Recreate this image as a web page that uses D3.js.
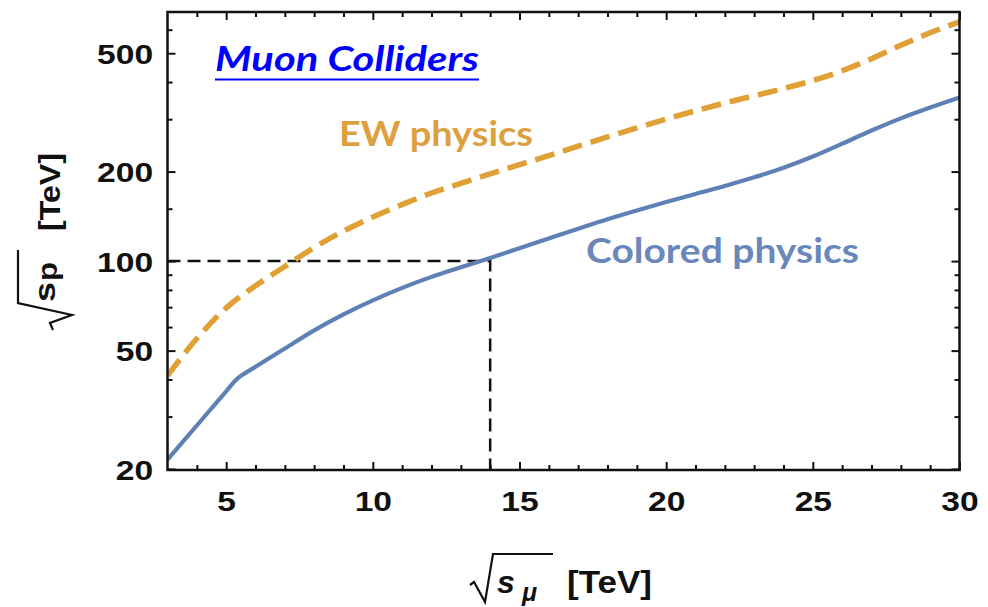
<!DOCTYPE html>
<html>
<head>
<meta charset="utf-8">
<script src="https://cdn.jsdelivr.net/npm/d3@7"></script>
<style>
  html, body { margin: 0; padding: 0; background: #ffffff; }
  svg { display: block; }
</style>
</head>
<body>
<svg id="chart" width="988" height="607"></svg>
<script>
// ---- data ----
const coloredX = [3, 4, 5, 5.4, 6, 7, 8, 9, 10, 11, 12, 13, 14, 15, 16, 17, 18, 19, 20, 21, 22, 23, 24, 25, 26, 27, 28, 29, 30];
const coloredY = [21.5, 28.0, 36.5, 40.4, 44.1, 50.8, 58.5, 66.2, 73.8, 81.3, 88.5, 95.3, 102.5, 110.5, 119.2, 128.5, 138.3, 148.0, 157.9, 168.2, 178.9, 191.3, 206.0, 224.7, 248.2, 274.8, 302.0, 328.3, 355.0];

const ewX = [3, 4, 5, 6, 7, 8, 9, 10, 11, 12, 13, 14, 15, 16, 17, 18, 19, 20, 21, 22, 23, 24, 25, 26, 27, 28, 29, 30];
const ewY = [41.2, 54.9, 69.6, 82.6, 95.9, 111.1, 126.1, 140.7, 155.0, 169.4, 182.5, 196.5, 210.9, 226.4, 243.4, 261.5, 280.4, 300.2, 320.1, 340.1, 359.7, 380.3, 404.6, 436.5, 479.0, 531.8, 585.8, 637.8];

const refPointX = 14;
const refPointY = 100;

const xMajorTicks = [5, 10, 15, 20, 25, 30];
const xMinorTicks = [4, 6, 7, 8, 9, 11, 12, 13, 14, 16, 17, 18, 19, 21, 22, 23, 24, 26, 27, 28, 29];
const yMajorTicks = [20, 50, 100, 200, 500];
const yMinorTicks = [30, 40, 60, 70, 80, 90, 150, 300, 400, 600];

const xDomain = [3, 30];
const yDomain = [19.84, 688];

// ---- layout ----
const L = 167.5, R = 959.5, T = 12, B = 470;
const svg = d3.select("#chart");
svg.append("rect").attr("width", 988).attr("height", 607).attr("fill", "#fff");

const x = d3.scaleLinear().domain(xDomain).range([L, R]);
const y = d3.scaleLog().domain(yDomain).range([B, T]);

const tickFont = "'Liberation Sans', Arial, sans-serif";

function styleAxis(g, labels) {
  g.select(".domain").remove();
  g.selectAll(".tick line").attr("stroke", "#111").attr("stroke-width", 2);
  if (!labels) g.selectAll(".tick text").remove();
  else g.selectAll(".tick text")
        .attr("font-family", tickFont)
        .attr("font-weight", "bold")
        .attr("font-size", 28)
        .attr("fill", "#111");
}

// bottom
const gxB = svg.append("g").attr("transform", `translate(0,${B})`)
  .call(d3.axisBottom(x).tickValues(xMajorTicks).tickSize(-8).tickPadding(21).tickFormat(d3.format("d")));
styleAxis(gxB, true);
gxB.selectAll(".tick text").attr("transform", "scale(1.2,1)");
const gxBm = svg.append("g").attr("transform", `translate(0,${B})`)
  .call(d3.axisBottom(x).tickValues(xMinorTicks).tickSize(-5).tickFormat(""));
styleAxis(gxBm, false);
// top
const gxT = svg.append("g").attr("transform", `translate(0,${T})`)
  .call(d3.axisTop(x).tickValues(xMajorTicks).tickSize(-8).tickFormat(""));
styleAxis(gxT, false);
const gxTm = svg.append("g").attr("transform", `translate(0,${T})`)
  .call(d3.axisTop(x).tickValues(xMinorTicks).tickSize(-5).tickFormat(""));
styleAxis(gxTm, false);
// left
const gyL = svg.append("g").attr("transform", `translate(${L},0)`)
  .call(d3.axisLeft(y).tickValues(yMajorTicks).tickSize(-8).tickPadding(12).tickFormat(d3.format("d")));
styleAxis(gyL, true);
gyL.selectAll(".tick text").attr("transform", "scale(1.2,1)").attr("dy", "0.36em");
const gyLm = svg.append("g").attr("transform", `translate(${L},0)`)
  .call(d3.axisLeft(y).tickValues(yMinorTicks).tickSize(-5).tickFormat(""));
styleAxis(gyLm, false);
// right
const gyR = svg.append("g").attr("transform", `translate(${R},0)`)
  .call(d3.axisRight(y).tickValues(yMajorTicks).tickSize(-8).tickFormat(""));
styleAxis(gyR, false);
const gyRm = svg.append("g").attr("transform", `translate(${R},0)`)
  .call(d3.axisRight(y).tickValues(yMinorTicks).tickSize(-5).tickFormat(""));
styleAxis(gyRm, false);

// ---- curves ----
svg.append("clipPath").attr("id", "plotclip")
  .append("rect").attr("x", L).attr("y", T).attr("width", R - L).attr("height", B - T);

const line = d3.line().x(d => x(d[0])).y(d => y(d[1])).curve(d3.curveCatmullRom.alpha(0.5));
const coloredData = coloredX.map((v, i) => [v, coloredY[i]]);
const ewData = ewX.map((v, i) => [v, ewY[i]]);

const plot = svg.append("g").attr("clip-path", "url(#plotclip)");

// reference dashed lines (100 TeV at 14 TeV)
plot.append("path")
  .attr("d", `M${x(xDomain[0])},${y(refPointY)}H${x(refPointX)}V${y(yDomain[0])}`)
  .attr("fill", "none").attr("stroke", "#111").attr("stroke-width", 2.5)
  .attr("stroke-dasharray", "13,7");

plot.append("path").datum(coloredData).attr("d", line)
  .attr("fill", "none").attr("stroke", "#5E81B5").attr("stroke-width", 4.2);

plot.append("path").datum(ewData).attr("d", line)
  .attr("fill", "none").attr("stroke", "#E1A035").attr("stroke-width", 5.5)
  .attr("stroke-dasharray", "20,9");

// frame
svg.append("rect").attr("x", L).attr("y", T).attr("width", R - L).attr("height", B - T)
  .attr("fill", "none").attr("stroke", "#111").attr("stroke-width", 2.5);

// ---- annotations ----
const annFont = "Lato, 'Open Sans', sans-serif";
svg.append("text").attr("x", 215).attr("y", 71)
  .attr("font-family", annFont).attr("font-weight", "bold").attr("font-style", "italic")
  .attr("font-size", 34).attr("fill", "#0000FF")
  .attr("textLength", 264).attr("lengthAdjust", "spacingAndGlyphs")
  .text("Muon Colliders");
svg.append("line").attr("x1", 215).attr("x2", 479).attr("y1", 79.5).attr("y2", 79.5)
  .attr("stroke", "#0000FF").attr("stroke-width", 2);

svg.append("text").attr("x", 339).attr("y", 146)
  .attr("font-family", annFont).attr("font-weight", "bold")
  .attr("font-size", 34).attr("fill", "#DDA03F")
  .attr("textLength", 194).attr("lengthAdjust", "spacingAndGlyphs")
  .text("EW physics");

svg.append("text").attr("x", 586).attr("y", 263)
  .attr("font-family", annFont).attr("font-weight", "bold")
  .attr("font-size", 35).attr("fill", "#6A87BC")
  .attr("textLength", 273).attr("lengthAdjust", "spacingAndGlyphs")
  .text("Colored physics");

// ---- axis titles ----
// x title: sqrt(s_mu) [TeV]
svg.append("path").attr("d", "M470,585 L474,582 L485,602 L493,554 L553,554")
  .attr("fill", "none").attr("stroke", "#111").attr("stroke-width", 2.2);
svg.append("text").attr("x", 497).attr("y", 593)
  .attr("font-family", tickFont).attr("font-weight", "bold").attr("font-style", "italic")
  .attr("font-size", 32).attr("fill", "#111").text("s");
svg.append("text").attr("x", 522).attr("y", 601)
  .attr("font-family", tickFont).attr("font-weight", "bold").attr("font-style", "italic")
  .attr("font-size", 25).attr("fill", "#111").text("μ");
svg.append("text").attr("x", 567).attr("y", 593)
  .attr("font-family", tickFont).attr("font-weight", "bold")
  .attr("font-size", 31).attr("fill", "#111")
  .attr("textLength", 85).attr("lengthAdjust", "spacingAndGlyphs")
  .text("[TeV]");

// y title: sqrt(s_p) [TeV]
svg.append("path").attr("d", "M53,330 L50,323 L72,315 L18,303 L18,250")
  .attr("fill", "none").attr("stroke", "#111").attr("stroke-width", 2.2);
svg.append("text").attr("transform", "translate(55,302) rotate(-90)")
  .attr("font-family", tickFont).attr("font-weight", "bold")
  .attr("font-size", 30).attr("fill", "#111")
  .attr("textLength", 20).attr("lengthAdjust", "spacingAndGlyphs").text("s");
svg.append("text").attr("transform", "translate(57,281) rotate(-90)")
  .attr("font-family", tickFont).attr("font-weight", "bold")
  .attr("font-size", 27).attr("fill", "#111")
  .attr("textLength", 19).attr("lengthAdjust", "spacingAndGlyphs").text("p");
svg.append("text").attr("transform", "translate(60,231) rotate(-90)")
  .attr("font-family", tickFont).attr("font-weight", "bold")
  .attr("font-size", 30).attr("fill", "#111")
  .attr("textLength", 78).attr("lengthAdjust", "spacingAndGlyphs")
  .text("[TeV]");
</script>
</body>
</html>
